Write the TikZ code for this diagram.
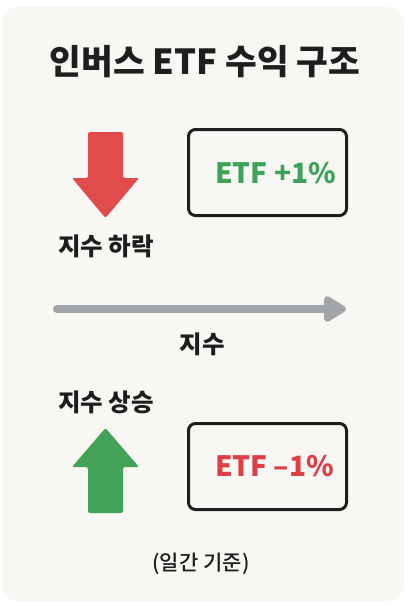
\documentclass[tikz,border=0pt]{standalone}
\usepackage{fontspec}
\setmainfont{Noto Sans CJK KR}
\newfontfamily\mediumfont{Noto Sans CJK KR Medium}
\usetikzlibrary{arrows.meta}

\definecolor{paper}{HTML}{F8F7F3}
\definecolor{ink}{HTML}{1E1E1E}
\definecolor{downred}{HTML}{E04B4B}
\definecolor{upgreen}{HTML}{43A257}
\definecolor{etfgreen}{HTML}{3DA35A}
\definecolor{etfred}{HTML}{E03E45}
\definecolor{axisgray}{HTML}{A2A5A8}

\tikzset{
  label text/.style={font=\bfseries\fontsize{24.5}{28}\selectfont, text=ink, inner sep=0pt},
  etf box/.style={draw=ink, line width=3pt, rounded corners=7pt,
    minimum width=158pt, minimum height=86pt, inner sep=0pt},
  etf text/.style={font=\bfseries\fontsize{28}{32}\selectfont, inner sep=0pt},
}

\begin{document}
\begin{tikzpicture}[x=1pt,y=-1pt]
    \useasboundingbox (0,0) rectangle (410,613);
    \fill [paper, rounded corners=16pt] (2,7) rectangle (404,601);

    \path (205,62) node [font=\bfseries\fontsize{34.5}{38}\selectfont, text=ink, inner sep=0pt] (title) {인버스 ETF 수익 구조};

    % index down -> ETF up
    \fill [downred, rounded corners=2pt]
      (88,132) -- (123,132) -- (123,178) -- (139,178) -- (105.5,218)
      -- (72,178) -- (88,178) -- cycle;
    \path (106,246) node [label text] (down) {지수 하락};
    \path (267.5,172.5) node [etf box] (upbox) {};
    \path (upbox.center) node [etf text, text=etfgreen, xshift=8pt, yshift=-1pt] (upetf) {ETF +1\%};

    % index axis
    \coordinate (axisstart) at (57,309);
    \coordinate (axisend) at (346,309);
    \draw [axisgray, line width=8pt, line cap=round,
      -{Triangle[length=25pt, width=29pt, round]}] (axisstart) -- (axisend);
    \path (202,344) node [label text] (axis) {지수};

    % index up -> ETF down
    \path (106,402) node [label text] (up) {지수 상승};
    \fill [upgreen, rounded corners=2pt]
      (88,513) -- (123,513) -- (123,467) -- (139,467) -- (105.5,428)
      -- (72,467) -- (88,467) -- cycle;
    \path (267.5,466.5) node [etf box] (downbox) {};
    \path (downbox.center) node [etf text, text=etfred, xshift=7pt] (downetf) {ETF –1\%};

    \path (201,564) node [font=\mediumfont\fontsize{21}{25}\selectfont, text=ink, inner sep=0pt] (note) {(일간 기준)};
\end{tikzpicture}
\end{document}
